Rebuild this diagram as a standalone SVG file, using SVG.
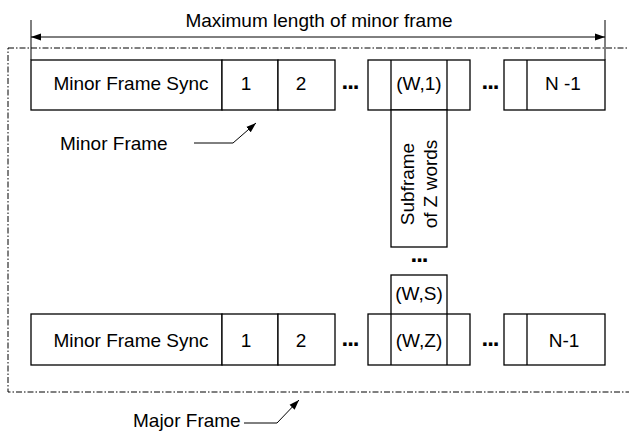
<svg xmlns="http://www.w3.org/2000/svg" width="629" height="431" viewBox="0 0 629 431">
<defs>
<style>
.box{fill:#fff;stroke:#000;stroke-width:1.3}
.ln{stroke:#000;stroke-width:1.3;fill:none}
.thin{stroke:#000;stroke-width:1;fill:none}
.t{font-family:"Liberation Sans",Arial,sans-serif;font-size:19px;fill:#000}
.m{text-anchor:middle}
.dots{font-family:"Liberation Sans",Arial,sans-serif;font-size:24px;font-weight:bold;fill:#000;text-anchor:middle;letter-spacing:-1px}
</style>
<marker id="ah" viewBox="0 0 10 10" refX="10" refY="5" markerWidth="10" markerHeight="10" markerUnits="userSpaceOnUse" orient="auto-start-reverse">
<path d="M0,1.5 L10,5 L0,8.5 Z" fill="#000"/>
</marker>
</defs>
<g id="major-frame-boundary">
<rect x="8" y="48" width="640" height="344" fill="none" stroke="#000" stroke-width="1" stroke-dasharray="6,2,1.5,2"/>
</g>
<g id="dimension">
<line class="thin" x1="31" y1="20" x2="31" y2="60"/>
<line class="thin" x1="605" y1="20" x2="605" y2="60"/>
<line class="thin" x1="31" y1="37" x2="605" y2="37" marker-start="url(#ah)" marker-end="url(#ah)"/>
<text class="t m" x="319" y="27">Maximum length of minor frame</text>
</g>
<g id="top-row">
<rect class="box" x="31" y="60" width="191" height="50"/>
<text class="t m" x="131" y="90">Minor Frame Sync</text>
<rect class="box" x="222" y="60" width="56" height="50"/>
<text class="t m" x="246" y="90">1</text>
<rect class="box" x="278" y="60" width="57" height="50"/>
<text class="t m" x="301" y="90">2</text>
<text class="dots" x="350" y="89">...</text>
<rect class="box" x="368" y="60" width="102" height="50"/>
<line class="ln" x1="391" y1="60" x2="391" y2="110"/>
<line class="ln" x1="447" y1="60" x2="447" y2="110"/>
<text class="t m" x="419" y="90">(W,1)</text>
<text class="dots" x="490" y="89">...</text>
<rect class="box" x="504" y="60" width="101" height="50"/>
<line class="ln" x1="527" y1="60" x2="527" y2="110"/>
<text class="t m" x="563" y="90">N -1</text>
</g>
<g id="subframe">
<rect class="box" x="391" y="110" width="56" height="137"/>
<text class="t m" transform="translate(414,184) rotate(-90)">Subframe</text>
<text class="t m" transform="translate(437,184) rotate(-90)">of Z words</text>
<text class="dots" x="419" y="262">...</text>
<rect class="box" x="391" y="275" width="56" height="40"/>
<text class="t m" x="419" y="300">(W,S)</text>
</g>
<g id="bottom-row">
<rect class="box" x="31" y="314" width="191" height="51"/>
<text class="t m" x="131" y="347">Minor Frame Sync</text>
<rect class="box" x="222" y="314" width="56" height="51"/>
<text class="t m" x="246" y="347">1</text>
<rect class="box" x="278" y="314" width="57" height="51"/>
<text class="t m" x="301" y="347">2</text>
<text class="dots" x="350" y="346">...</text>
<rect class="box" x="368" y="314" width="102" height="51"/>
<line class="ln" x1="391" y1="314" x2="391" y2="365"/>
<line class="ln" x1="447" y1="314" x2="447" y2="365"/>
<text class="t m" x="419" y="347">(W,Z)</text>
<text class="dots" x="490" y="346">...</text>
<rect class="box" x="504" y="314" width="101" height="51"/>
<line class="ln" x1="527" y1="314" x2="527" y2="365"/>
<text class="t m" x="564" y="347">N-1</text>
</g>
<g id="connectors">
<polyline class="thin" points="194,143 233,143 256,123" marker-end="url(#ah)"/>
<polyline class="thin" points="244,423 277,423 299,400" marker-end="url(#ah)"/>
</g>
<g id="labels">
<text class="t" x="60" y="150">Minor Frame</text>
<text class="t" x="133" y="427">Major Frame</text>
</g>
</svg>
